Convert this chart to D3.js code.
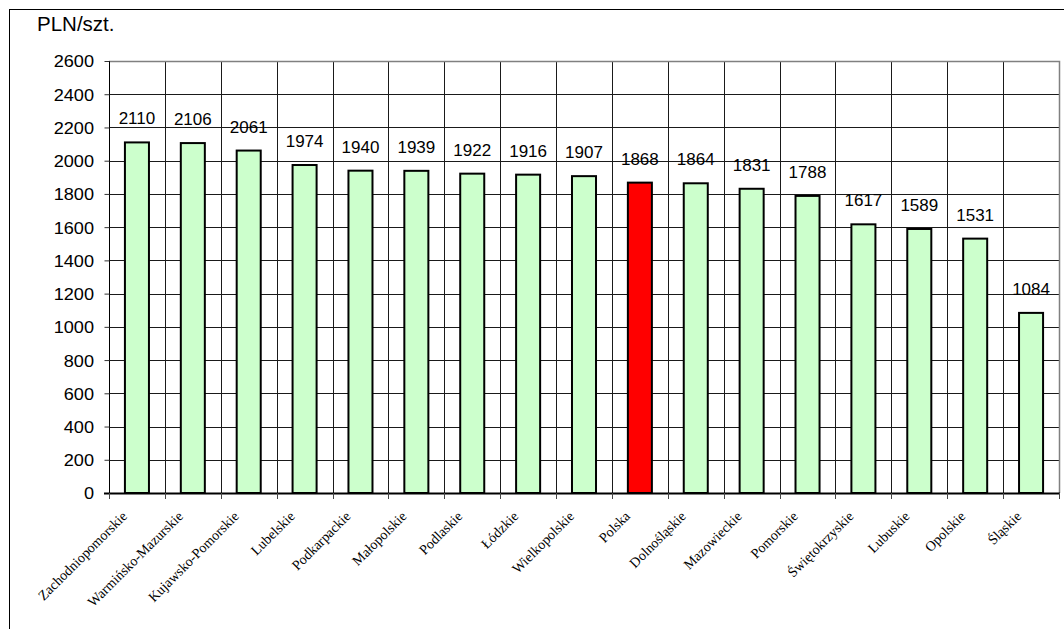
<!DOCTYPE html>
<html>
<head>
<meta charset="utf-8">
<script src="https://d3js.org/d3.v7.min.js"></script>
<style>
    body { margin: 0; background: #fff; }
    svg { display: block; }
    .grid line { stroke: #1a1a1a; stroke-width: 1; shape-rendering: crispEdges; }
    .val { font: 17px "Liberation Sans", Arial, sans-serif; fill: #000; }
    .yaxis text { font: 16.5px "Liberation Sans", Arial, sans-serif; fill: #000; }
    .xlab { font: 14px "Liberation Serif", "Times New Roman", serif; fill: #000; }
</style>
</head>
<body>
<script>
    // chart data
    var regions = ["Zachodniopomorskie", "Warmińsko-Mazurskie", "Kujawsko-Pomorskie", "Lubelskie",
        "Podkarpackie", "Małopolskie", "Podlaskie", "Łódzkie", "Wielkopolskie", "Polska",
        "Dolnośląskie", "Mazowieckie", "Pomorskie", "Świętokrzyskie", "Lubuskie", "Opolskie", "Śląskie"];
    var prices = [2110, 2106, 2061, 1974, 1940, 1939, 1922, 1916, 1907, 1868,
        1864, 1831, 1788, 1617, 1589, 1531, 1084];
    var yTicks = [0, 200, 400, 600, 800, 1000, 1200, 1400, 1600, 1800, 2000, 2200, 2400, 2600];
    var highlight = "Polska";
    var unitLabel = "PLN/szt.";

    var W = 1064, H = 629;
    // plot area (window.top is reserved, so use own names)
    var pL = 109, pR = 1059, pT = 61, pB = 493;

    var svg = d3.select("body").append("svg")
        .attr("width", W)
        .attr("height", H);

    // outer frame (runs off the right and bottom)
    svg.append("rect")
        .attr("x", 9.5).attr("y", 9.5)
        .attr("width", W + 20).attr("height", H + 20)
        .attr("fill", "none").attr("stroke", "#000");

    var x = d3.scaleBand()
        .domain(regions)
        .range([pL, pR])
        .paddingInner(0.57)
        .paddingOuter(0.285);

    var y = d3.scaleLinear()
        .domain([0, 2600])
        .range([pB, pT]);

    var step = x.step();
    var bounds = regions.map(function(d) { return x(d) - step * x.paddingInner() / 2; });
    bounds.push(pR);

    // grid
    var grid = svg.append("g").attr("class", "grid");
    grid.selectAll(".h")
        .data(yTicks.slice(1))
        .enter().append("line")
        .attr("x1", pL).attr("x2", pR)
        .attr("y1", function(d) { return Math.round(y(d)) + 0.5; })
        .attr("y2", function(d) { return Math.round(y(d)) + 0.5; });
    grid.selectAll(".v")
        .data(bounds.slice(1, -1))
        .enter().append("line")
        .attr("x1", function(d) { return Math.round(d) + 0.5; })
        .attr("x2", function(d) { return Math.round(d) + 0.5; })
        .attr("y1", pT).attr("y2", pB);

    // plot area border top/right in gray
    svg.append("path")
        .attr("d", "M" + pL + "," + (pT + 0.5) + "H" + (pR + 0.5) + "V" + pB)
        .attr("fill", "none").attr("stroke", "#808080").attr("stroke-width", 1.5);

    // y axis
    var yAxis = svg.append("g")
        .attr("class", "yaxis")
        .attr("transform", "translate(" + (pL + 0.5) + ",0)")
        .call(d3.axisLeft(y).tickValues(yTicks).tickSize(5).tickPadding(10).tickFormat(d3.format("d")));
    yAxis.selectAll("line").attr("stroke", "#333");
    yAxis.select(".domain").attr("stroke", "#000").attr("d", "M0," + pT + "V" + pB);
    // labels in the original look a little stretched sideways
    yAxis.selectAll("text")
        .attr("dy", "0.36em")
        .attr("x", -15.5 / 1.1)
        .attr("transform", "scale(1.1,1)");

    // bars
    svg.selectAll(".bar")
        .data(regions)
        .enter().append("rect")
        .attr("class", "bar")
        .attr("x", function(d) { return x(d); })
        .attr("width", x.bandwidth())
        .attr("y", function(d, i) { return y(prices[i]); })
        .attr("height", function(d, i) { return pB - y(prices[i]); })
        .attr("fill", function(d) { return d === highlight ? "#ff0000" : "#ccffcc"; })
        .attr("stroke", "#000")
        .attr("stroke-width", 2);

    // x axis line and ticks at category bounds
    svg.append("line")
        .attr("x1", pL - 5).attr("x2", pR + 1)
        .attr("y1", pB + 0.5).attr("y2", pB + 0.5)
        .attr("stroke", "#000").attr("stroke-width", 2);
    svg.selectAll(".xt")
        .data(bounds)
        .enter().append("line")
        .attr("x1", function(d) { return Math.round(d) + 0.5; })
        .attr("x2", function(d) { return Math.round(d) + 0.5; })
        .attr("y1", pB).attr("y2", pB + 6)
        .attr("stroke", "#444");

    // value labels
    svg.selectAll(".val")
        .data(regions)
        .enter().append("text")
        .attr("class", "val")
        .attr("x", function(d) { return x(d) + x.bandwidth() / 2; })
        .attr("y", function(d, i) { return y(prices[i]) - 18; })
        .attr("text-anchor", "middle")
        .text(function(d, i) { return prices[i]; });

    // category labels
    svg.selectAll(".xlab")
        .data(regions)
        .enter().append("text")
        .attr("class", "xlab")
        .attr("text-anchor", "end")
        .attr("transform", function(d) {
            return "translate(" + (x(d) + x.bandwidth() / 2 - 9) + "," + (pB + 24) + ") rotate(-45)";
        })
        .text(function(d) { return d; });

    // unit label
    svg.append("text")
        .attr("x", 37).attr("y", 31)
        .style("font", "20.5px 'Liberation Sans', Arial, sans-serif")
        .text(unitLabel);
</script>
</body>
</html>
